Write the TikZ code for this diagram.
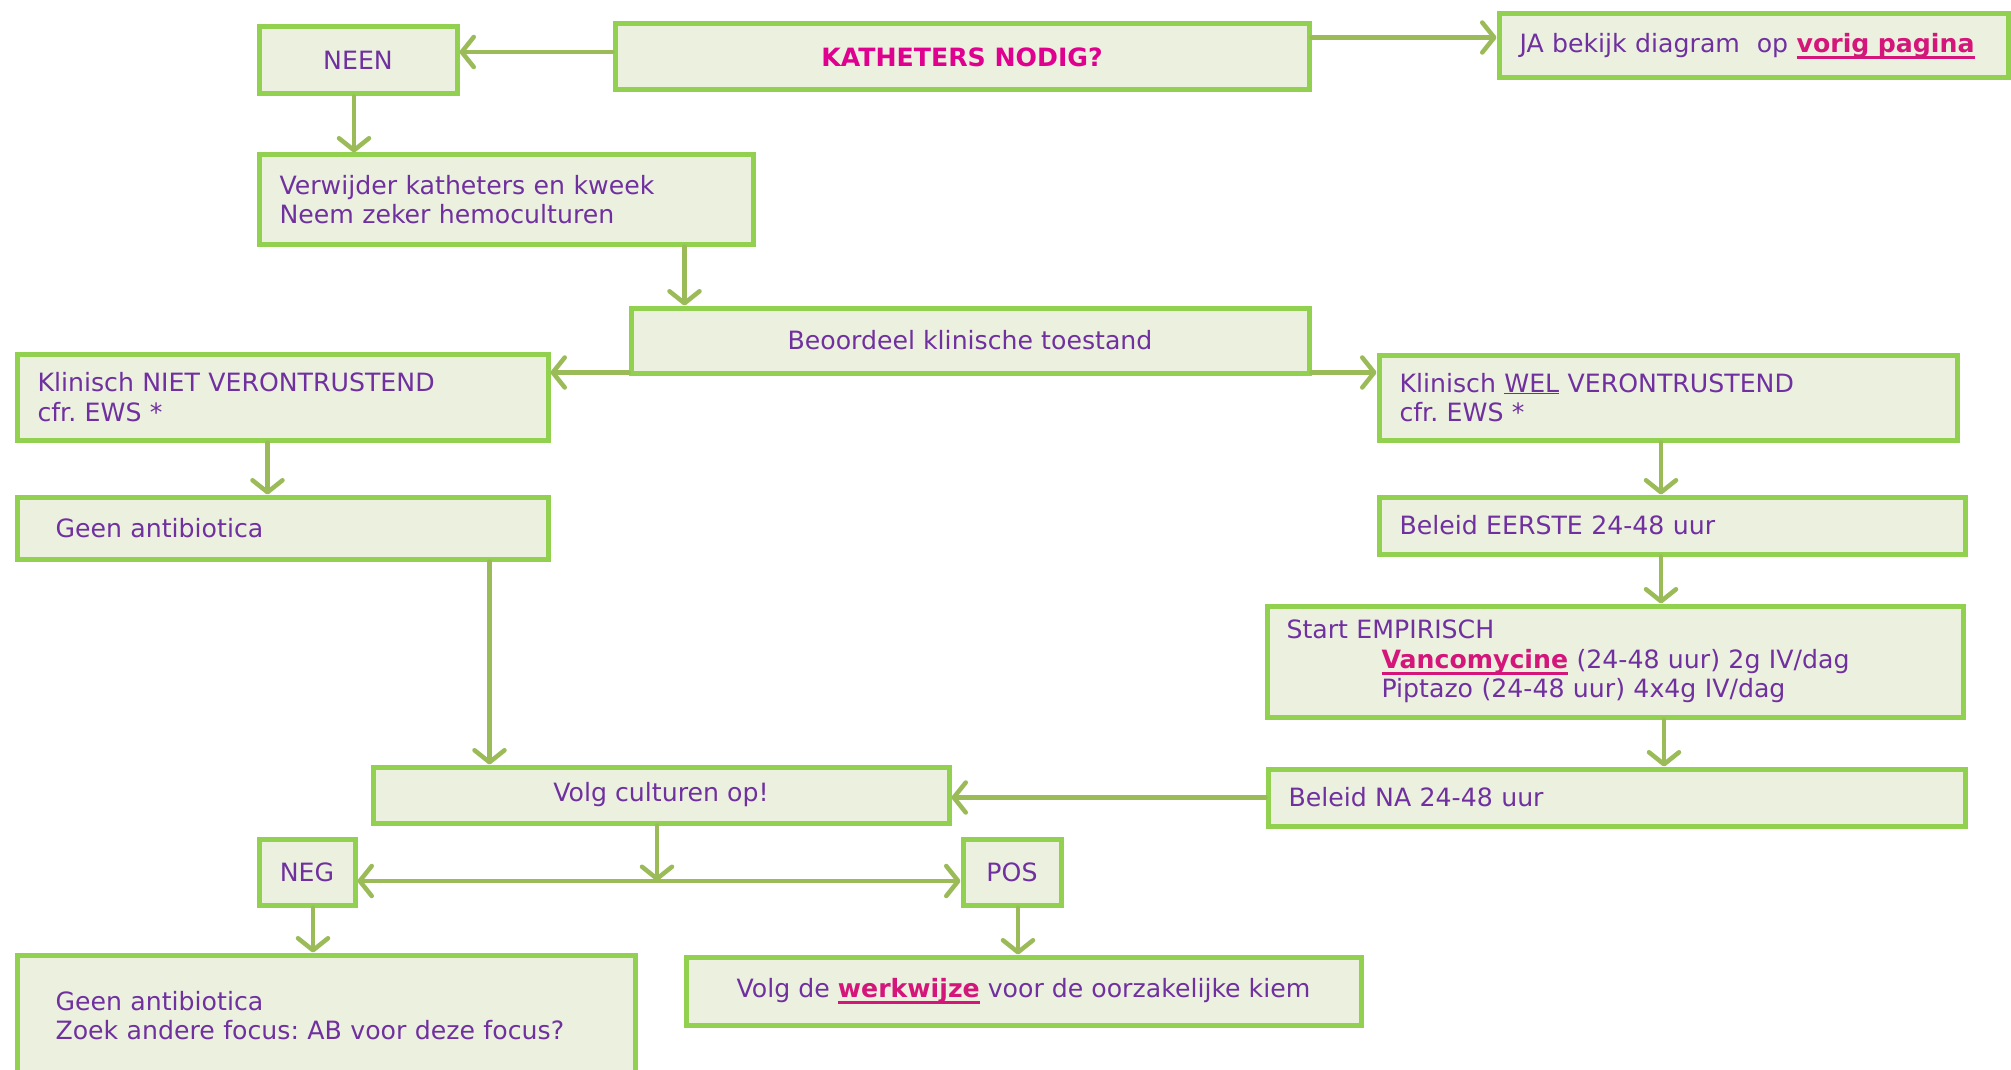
\documentclass[tikz,border=0pt]{standalone}
\usepackage{fontspec}
\setmainfont{DejaVu Sans}
\usetikzlibrary{arrows.meta,calc}
\definecolor{boxfill}{HTML}{EBF1DE}
\definecolor{boxline}{HTML}{92D050}
\definecolor{arrgreen}{HTML}{9BBB59}
\definecolor{txtpurple}{HTML}{7030A0}
\definecolor{titlemag}{HTML}{E0008F}
\definecolor{linkpink}{HTML}{D4157A}
\newcommand{\lnk}[1]{\textcolor{linkpink}{\setbox0\hbox{\textbf{#1}}\rlap{\rule[-6.5pt]{\wd0}{2.6pt}}\box0}}
\frenchspacing
\begin{document}
\begin{tikzpicture}[x=1pt,y=-1pt,
  bx/.style={draw=boxline, line width=5pt, fill=boxfill, text=txtpurple,
    font=\fontsize{25.2}{29.5}\selectfont, anchor=north west, inner sep=0pt},
  lft/.style={align=left, text width=#1},
  arr/.style={draw=arrgreen, line width=4.5pt, line cap=round,
    -{Straight Barb[length=12pt,width=30pt,round]}}]
\clip (0,0) rectangle (2011,1070);
\fill[white] (0,0) rectangle (2011,1070);
% boxes
\node[bx, minimum width=694pt, minimum height=66pt] (kat) at (612.5,21.5)
  {\textcolor{titlemag}{\textbf{KATHETERS NODIG?}}};
\node[bx, minimum width=509pt, minimum height=64pt, inner xsep=20.5pt, lft=468pt] (ja) at (1496.5,11.5)
  {\mbox{JA bekijk diagram\ \ op \lnk{vorig pagina}}};
\node[bx, minimum width=198pt, minimum height=67pt] (neen) at (256.5,24.5) {NEEN};
\node[bx, minimum width=494pt, minimum height=89pt, inner xsep=20.5pt, lft=453pt] (verw) at (256.5,152.5)
  {Verwijder katheters en kweek\\Neem zeker hemoculturen};
\node[bx, minimum width=678pt, minimum height=65pt] (beo) at (628.5,305.5) {Beoordeel klinische toestand};
\node[bx, minimum width=531pt, minimum height=86pt, inner xsep=20.5pt, lft=490pt] (niet) at (14.5,351.5)
  {Klinisch NIET VERONTRUSTEND\\cfr. EWS *};
\node[bx, minimum width=578pt, minimum height=85pt, inner xsep=20.5pt, lft=537pt] (wel) at (1376.5,352.5)
  {Klinisch \underline{WEL} VERONTRUSTEND\\cfr. EWS *};
\node[bx, minimum width=531pt, minimum height=62pt, inner xsep=38.5pt, lft=454pt] (geena) at (14.5,494.5)
  {Geen antibiotica};
\node[bx, minimum width=586pt, minimum height=57pt, inner xsep=20.5pt, lft=545pt] (eerste) at (1376.5,494.5)
  {Beleid EERSTE 24-48 uur};
\node[bx, minimum width=696pt, minimum height=111pt, inner xsep=19.5pt, lft=657pt] (start) at (1264.5,603.5)
  {Start EMPIRISCH\\\hspace*{95pt}\lnk{Vancomycine} (24-48 uur) 2g IV/dag\\\hspace*{95pt}Piptazo (24-48 uur) 4x4g IV/dag};
\node[bx, minimum width=697pt, minimum height=57pt, inner xsep=20.5pt, lft=656pt] (na) at (1265.5,766.5)
  {Beleid NA 24-48 uur};
\node[bx, minimum width=576pt, minimum height=56pt] (volg) at (370.5,764.5) {Volg culturen op!};
\node[bx, minimum width=96pt, minimum height=66pt] (neg) at (256.5,836.5) {NEG};
\node[bx, minimum width=98pt, minimum height=66pt] (pos) at (960.5,836.5) {POS};
\node[bx, minimum width=618pt, minimum height=121pt, inner xsep=38.5pt, lft=541pt] (geenb) at (14.5,952.5)
  {Geen antibiotica\\Zoek andere focus: AB voor deze focus?};
\node[bx, minimum width=675pt, minimum height=68pt] (volgde) at (683.5,954.5)
  {Volg de \lnk{werkwijze} voor de oorzakelijke kiem};
% connectors
\draw[arr] ([yshift=5pt]kat.west) -- ([yshift=5pt]kat.west -| neen.east);
\draw[arr] ([yshift=-16pt]kat.north east) -- ([yshift=-16pt]kat.north east -| ja.west);
\draw[arr] ([xshift=-4pt]neen.south) -- ([xshift=-4pt]neen.south |- verw.north);
\draw[arr] ([xshift=-71pt]verw.south east) -- ([xshift=-71pt]verw.south east |- beo.north);
\draw[arr] ([yshift=3pt]beo.south west) -- ([yshift=3pt]beo.south west -| niet.east);
\draw[arr] ([yshift=3pt]beo.south east) -- ([yshift=3pt]beo.south east -| wel.west);
\draw[arr] ([xshift=-15pt]niet.south) -- ([xshift=-15pt]niet.south |- geena.north);
\draw[arr] ([xshift=-61pt]geena.south east) -- ([xshift=-61pt]geena.south east |- volg.north);
\coordinate (cx) at ([xshift=-7pt]wel.south);
\draw[arr] (cx) -- (cx |- eerste.north);
\draw[arr] (cx |- eerste.south) -- (cx |- start.north);
\draw[arr] ([xshift=49pt]start.south) -- ([xshift=49pt]start.south |- na.north);
\draw[arr] (na.west) -- (na.west -| volg.east);
\coordinate (jn) at ([yshift=-9pt]neg.east -| volg.south);
\draw[arr] ([xshift=-4pt]volg.south) -- ([xshift=-4pt]jn);
\draw[arr] (jn) -- (jn -| neg.east);
\draw[arr] (jn) -- (jn -| pos.west);
\draw[arr] ([xshift=6pt]neg.south) -- ([xshift=6pt]neg.south |- geenb.north);
\draw[arr] ([xshift=6pt]pos.south) -- ([xshift=6pt]pos.south |- volgde.north);
\end{tikzpicture}
\end{document}
